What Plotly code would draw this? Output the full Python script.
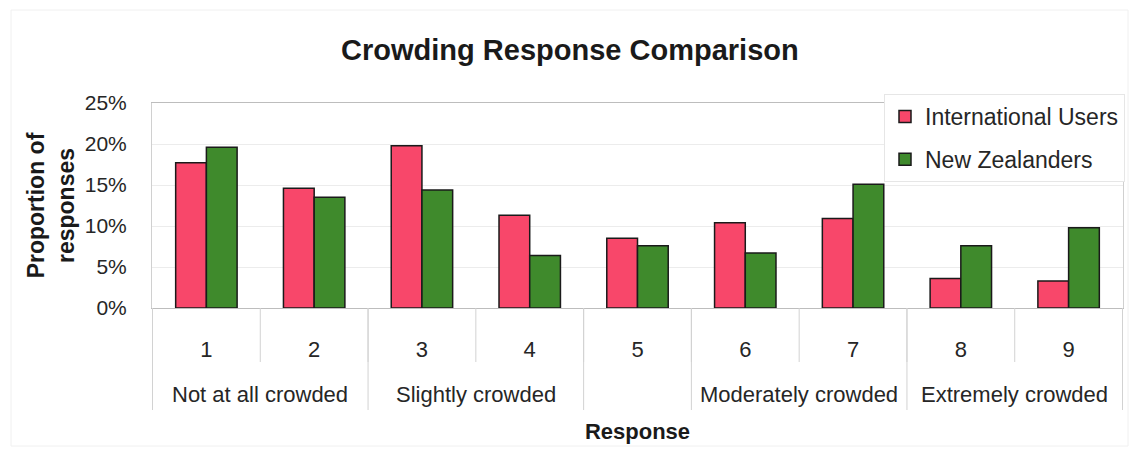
import plotly.graph_objects as go

# Survey responses on a 1-9 crowding scale
responses = ["1", "2", "3", "4", "5", "6", "7", "8", "9"]
international_users = [0.177, 0.146, 0.198, 0.113, 0.085, 0.104, 0.109, 0.036, 0.033]
new_zealanders = [0.196, 0.135, 0.144, 0.064, 0.076, 0.067, 0.151, 0.076, 0.098]

# Verbal anchors under the scale and how many responses each one spans
anchor_labels = ["Not at all crowded", "Slightly crowded", "", "Moderately crowded", "Extremely crowded"]
anchor_spans = [2, 2, 1, 2, 2]

y_ticks = [0, 0.05, 0.10, 0.15, 0.20, 0.25]

W, H = 1133, 449
M_L, M_R, M_T, M_B = 152, 10, 103, 141
plot_h = H - M_T - M_B
plot_w = W - M_L - M_R

FONT = "Liberation Sans, Arial, sans-serif"
RED = "#F8476A"
GREEN = "#3F8A2C"
SEP = "#d2d2d2"

fig = go.Figure()
fig.add_trace(go.Bar(
    x=responses, y=international_users, name="International Users",
    marker=dict(color=RED, line=dict(color="#1a1a1a", width=1.5)),
    legendgroup="a",
))
fig.add_trace(go.Bar(
    x=responses, y=new_zealanders, name="New Zealanders",
    marker=dict(color=GREEN, line=dict(color="#1a1a1a", width=1.5)),
    legendgroup="b",
))


def px_below(p):
    """Paper y-coordinate for a point p pixels below the x axis."""
    return -p / plot_h


shapes = []
# thin separators between every response
for i in range(len(responses) + 1):
    shapes.append(dict(type="line", xref="x", yref="paper",
                       x0=i - 0.5, x1=i - 0.5, y0=0, y1=px_below(54),
                       line=dict(color=SEP, width=1)))
# taller separators between the verbal anchor groups
annotations = []
pos = 0
bounds = [0]
for label, span in zip(anchor_labels, anchor_spans):
    centre = pos + (span - 1) / 2
    if label:
        annotations.append(dict(
            x=centre, y=px_below(86), xref="x", yref="paper",
            text=label, showarrow=False, yanchor="middle",
            font=dict(family=FONT, size=22, color="#262626"),
        ))
    pos += span
    bounds.append(pos)
for b in bounds:
    shapes.append(dict(type="line", xref="x", yref="paper",
                       x0=b - 0.5, x1=b - 0.5, y0=0, y1=px_below(102),
                       line=dict(color=SEP, width=1)))

# faint outer chart frame
shapes.append(dict(type="rect", xref="paper", yref="paper",
                   x0=(11 - M_L) / plot_w, x1=(1128 - M_L) / plot_w,
                   y0=-(446 - M_T - plot_h) / plot_h, y1=(H - M_B - 10) / plot_h,
                   line=dict(color="#f0f0f0", width=1)))

fig.update_layout(
    width=W, height=H,
    margin=dict(l=M_L, r=M_R, t=M_T, b=M_B, autoexpand=False),
    paper_bgcolor="white", plot_bgcolor="white",
    font=dict(family=FONT, color="#262626"),
    title=dict(text="<b>Crowding Response Comparison</b>", x=0.503, xanchor="center",
               y=1 - 50 / H, yanchor="middle",
               font=dict(family=FONT, size=29, color="#1a1a1a")),
    barmode="group", bargap=0.43, bargroupgap=0,
    showlegend=True,
    legend=dict(x=(884 - M_L) / plot_w, xanchor="left",
                y=1 + 9 / plot_h, yanchor="top",
                bgcolor="white", bordercolor="#e6e6e6", borderwidth=1,
                font=dict(family=FONT, size=23, color="#262626"),
                tracegroupgap=10, traceorder="grouped"),
    shapes=shapes, annotations=annotations,
)

fig.update_xaxes(
    type="category", showgrid=False, ticks="", ticklabelstandoff=22,
    tickfont=dict(family=FONT, size=22, color="#262626"),
    showline=True, linecolor="#bdbdbd", linewidth=1, mirror=True,
    title=dict(text="<b>Response</b>", standoff=62,
               font=dict(family=FONT, size=22, color="#1a1a1a")),
    automargin=False,
)
fig.update_yaxes(
    range=[0, 0.25], tickvals=y_ticks, tickformat=".0%",
    showgrid=True, gridcolor="#ececec", gridwidth=1, zeroline=False,
    ticks="", ticklabelstandoff=20,
    tickfont=dict(family=FONT, size=21, color="#262626"),
    showline=True, linecolor="#d0d0d0", linewidth=1, mirror=True,
    title=dict(text="<b>Proportion of<br>responses</b>", standoff=3,
               font=dict(family=FONT, size=23, color="#1a1a1a")),
    automargin=False,
)

fig.write_html("out.html")
